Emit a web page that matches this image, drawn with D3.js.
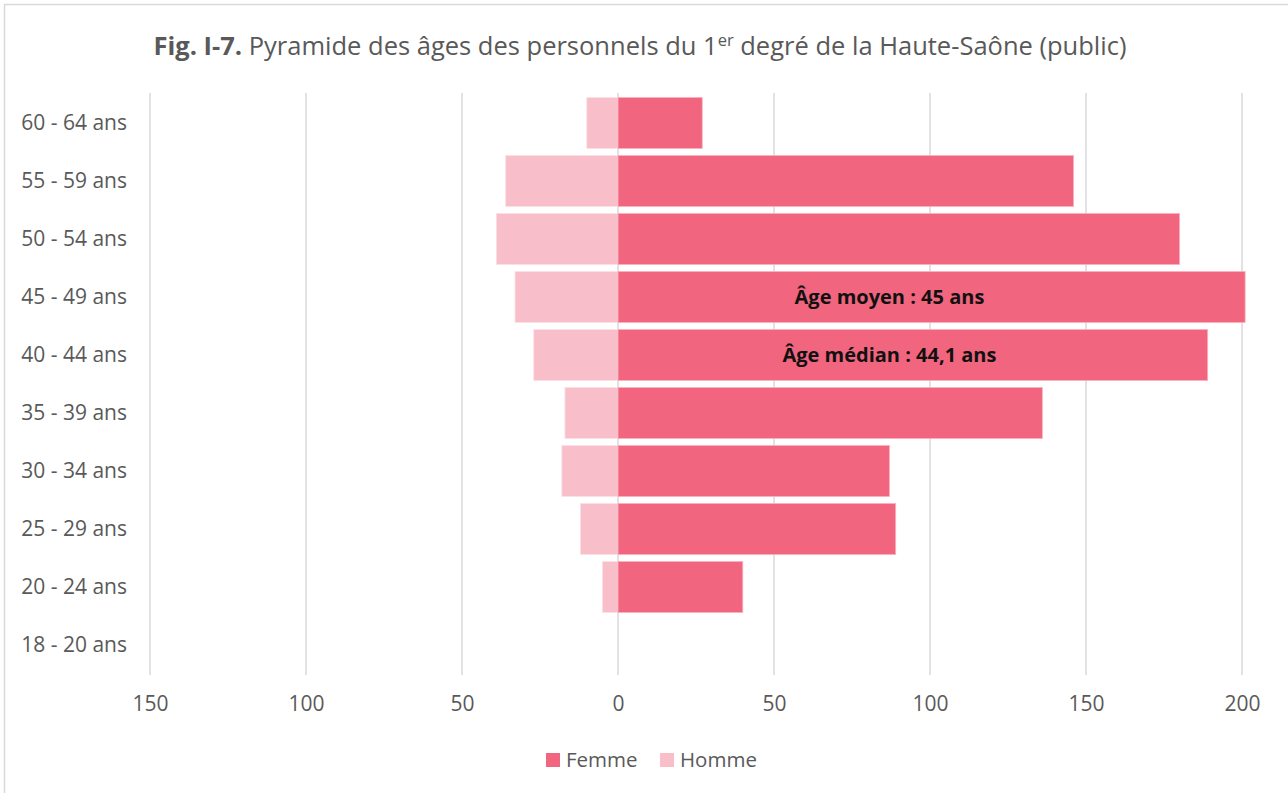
<!DOCTYPE html>
<html>
<head>
<meta charset="utf-8">
<script src="https://cdn.jsdelivr.net/npm/d3@7"></script>
<style>
  body { margin: 0; background: #fff; }
  svg { display: block; font-family: "Open Sans", sans-serif; }
</style>
</head>
<body>
<svg width="1288" height="793"></svg>
<script>
(function () {
    const ageGroups = ['60 - 64 ans', '55 - 59 ans', '50 - 54 ans', '45 - 49 ans', '40 - 44 ans',
        '35 - 39 ans', '30 - 34 ans', '25 - 29 ans', '20 - 24 ans', '18 - 20 ans'];
    const femme = [27, 146, 180, 201, 189, 136, 87, 89, 40, 0];
    const homme = [10, 36, 39, 33, 27, 17, 18, 12, 5, 0];
    const xTicks = [-150, -100, -50, 0, 50, 100, 150, 200];
    const notes = [
        { group: '45 - 49 ans', at: 87, text: 'Âge moyen : 45 ans' },
        { group: '40 - 44 ans', at: 87, text: 'Âge médian : 44,1 ans' }
    ];
    const series = [
        { name: 'Femme', color: '#f1657f' },
        { name: 'Homme', color: '#f8bfca' }
    ];

    const svg = d3.select('svg');
    const grey = '#595959';

    // chart border (right and bottom fall outside the picture)
    svg.append('rect')
        .attr('x', 4.5).attr('y', 4.5)
        .attr('width', 1300).attr('height', 810)
        .attr('fill', '#fff')
        .attr('stroke', '#d9d9d9')
        .attr('stroke-width', 1.5);

    const x = d3.scaleLinear().domain([-150, 200]).range([150, 1242]);
    const y = d3.scaleBand().domain(ageGroups).range([94, 674])
        .paddingInner(0.12).paddingOuter(0.06);

    // title
    const title = svg.append('text')
        .attr('x', 640).attr('y', 55)
        .attr('text-anchor', 'middle')
        .attr('fill', grey)
        .style('font-size', '25.5px');
    title.append('tspan').attr('font-weight', 'bold').text('Fig. I-7.');
    title.append('tspan').text(' Pyramide des âges des personnels du 1');
    title.append('tspan').attr('dy', -9).style('font-size', '16.5px').text('er');
    title.append('tspan').attr('dy', 9).text(' degré de la Haute-Saône (public)');

    // gridlines
    svg.append('g')
        .selectAll('line')
        .data(xTicks)
        .enter().append('line')
        .attr('x1', d => x(d)).attr('x2', d => x(d))
        .attr('y1', 93).attr('y2', 675)
        .attr('stroke', '#d9d9d9')
        .attr('stroke-width', 1.5);

    const rows = ageGroups.map((g, i) => ({ group: g, femme: femme[i], homme: homme[i] }));

    // bars
    svg.append('g')
        .selectAll('rect')
        .data(rows.filter(d => d.homme > 0))
        .enter().append('rect')
        .attr('x', d => x(-d.homme))
        .attr('y', d => y(d.group))
        .attr('width', d => x(0) - x(-d.homme))
        .attr('height', y.bandwidth())
        .attr('fill', series[1].color)
        .attr('stroke', '#fbe0e6')
        .attr('stroke-width', 0.8);

    svg.append('g')
        .selectAll('rect')
        .data(rows.filter(d => d.femme > 0))
        .enter().append('rect')
        .attr('x', x(0))
        .attr('y', d => y(d.group))
        .attr('width', d => x(d.femme) - x(0))
        .attr('height', y.bandwidth())
        .attr('fill', series[0].color)
        .attr('stroke', '#f7b2c0')
        .attr('stroke-width', 0.8);

    // annotations
    svg.append('g')
        .selectAll('text')
        .data(notes)
        .enter().append('text')
        .attr('x', d => x(d.at))
        .attr('y', d => y(d.group) + y.bandwidth() / 2)
        .attr('dy', '0.35em')
        .attr('text-anchor', 'middle')
        .attr('font-weight', 'bold')
        .attr('fill', '#111')
        .style('font-size', '20px')
        .text(d => d.text);

    // category labels
    svg.append('g')
        .selectAll('text')
        .data(ageGroups)
        .enter().append('text')
        .attr('x', 127)
        .attr('y', d => y(d) + y.bandwidth() / 2)
        .attr('dy', '0.35em')
        .attr('text-anchor', 'end')
        .attr('fill', grey)
        .style('font-size', '21px')
        .text(d => d);

    // value axis
    const axis = svg.append('g')
        .attr('transform', 'translate(0,693)')
        .call(d3.axisBottom(x).tickValues(xTicks).tickSize(0).tickFormat(d => Math.abs(d)));
    axis.select('.domain').remove();
    axis.selectAll('text')
        .attr('fill', grey)
        .style('font-family', '"Open Sans", sans-serif')
        .style('font-size', '21px');

    // legend
    const legend = svg.append('g').attr('transform', 'translate(546,760)');
    const item = legend.selectAll('g')
        .data(series)
        .enter().append('g')
        .attr('transform', (d, i) => `translate(${i * 114},0)`);
    item.append('rect')
        .attr('x', 0).attr('y', -7)
        .attr('width', 14).attr('height', 14)
        .attr('fill', d => d.color);
    item.append('text')
        .attr('x', 20).attr('dy', '0.35em')
        .attr('fill', grey)
        .style('font-size', '20.5px')
        .text(d => d.name);
})();
</script>
</body>
</html>
